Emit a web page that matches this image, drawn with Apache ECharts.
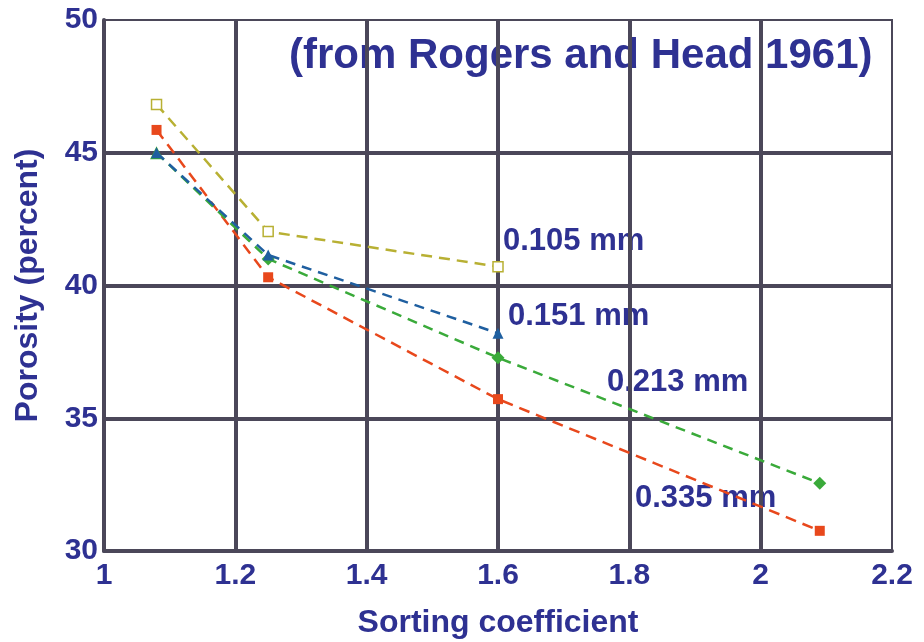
<!DOCTYPE html>
<html>
<head>
<meta charset="utf-8">
<script src="https://cdn.jsdelivr.net/npm/echarts@6/dist/echarts.min.js"></script>
<style>html,body{margin:0;padding:0;background:#fff}#c{width:924px;height:642px}</style>
</head>
<body>
<div id="c"></div>
<script>
// Data
const sorting105 = [1.08, 1.25, 1.60];
const porosity105 = [46.82, 42.03, 40.71];
const sorting151 = [1.08, 1.25, 1.60];
const porosity151 = [45.0, 41.15, 38.2];
const sorting213 = [1.08, 1.25, 1.60, 2.09];
const porosity213 = [45.0, 41.0, 37.28, 32.55];
const sorting335 = [1.08, 1.25, 1.60, 2.09];
const porosity335 = [45.86, 40.31, 35.72, 30.76];
const seriesNames = ['0.105 mm', '0.151 mm', '0.213 mm', '0.335 mm'];
const xTicks = [1, 1.2, 1.4, 1.6, 1.8, 2, 2.2];
const yTicks = [30, 35, 40, 45, 50];
const titleText = '(from Rogers and Head 1961)';
const xTitle = 'Sorting coefficient';
const yTitle = 'Porosity (percent)';

const pair = (xs, ys) => xs.map((x, i) => [x, ys[i]]);
const TXT = '#2e3192';
const GRID = '#4b4759';
const FONT = '"Liberation Sans", Arial, sans-serif';

const chart = echarts.init(document.getElementById('c'), null, {renderer: 'canvas'});
chart.setOption({
  animation: false,
  backgroundColor: '#fff',
  grid: {left: 104, right: 32, top: 20, bottom: 91, containLabel: false, outerBoundsMode: 'none',
    show: true, borderColor: GRID, borderWidth: 2, backgroundColor: 'transparent'},
  xAxis: {
    type: 'value', min: 1, max: 2.2, interval: 0.2,
    name: xTitle, nameLocation: 'middle', nameGap: 56,
    nameTextStyle: {color: TXT, fontSize: 32, fontWeight: 'bold', fontFamily: FONT},
    axisLine: {show: true, onZero: false, lineStyle: {color: GRID, width: 4}},
    axisTick: {show: false},
    axisLabel: {color: TXT, fontSize: 30, fontWeight: 'bold', fontFamily: FONT, margin: 10,
      formatter: v => { const t = xTicks.find(k => Math.abs(k - v) < 1e-6); return t === undefined ? '' : String(t); }},
    splitLine: {show: true, showMinLine: false, showMaxLine: false, lineStyle: {color: GRID, width: 4}}
  },
  yAxis: {
    type: 'value', min: 30, max: 50, interval: 5,
    name: yTitle, nameLocation: 'middle', nameGap: 60, nameRotate: 90,
    nameTextStyle: {color: TXT, fontSize: 32, fontWeight: 'bold', fontFamily: FONT},
    axisLine: {show: true, onZero: false, lineStyle: {color: GRID, width: 4}},
    axisTick: {show: false},
    axisLabel: {color: TXT, fontSize: 30, fontWeight: 'bold', fontFamily: FONT, margin: 6,
      formatter: v => { const t = yTicks.find(k => Math.abs(k - v) < 1e-6); return t === undefined ? '' : String(t); }},
    splitLine: {show: true, showMinLine: false, showMaxLine: false, lineStyle: {color: GRID, width: 4}}
  },
  series: [
    {name: seriesNames[0], type: 'line', data: pair(sorting105, porosity105),
      symbol: 'rect', symbolSize: 10, itemStyle: {color: '#fff', borderColor: '#b8b033', borderWidth: 1.5},
      lineStyle: {color: '#b8b033', width: 2.5, type: [11, 7]}, z: 3},
    {name: seriesNames[1], type: 'line', data: pair(sorting151, porosity151),
      symbol: 'triangle', symbolSize: 11, itemStyle: {color: '#1f5fa0'},
      lineStyle: {color: '#1f5fa0', width: 2.5, type: [10, 7]}, z: 4},
    {name: seriesNames[2], type: 'line',
      data: pair(sorting213, porosity213).map((d, i) => i === 0 ? {value: d, symbol: 'triangle'} : d),
      symbol: 'diamond', symbolSize: 13, itemStyle: {color: '#3aaa3a'},
      lineStyle: {color: '#3aaa3a', width: 2.5, type: [10, 7]}, z: 3},
    {name: seriesNames[3], type: 'line', data: pair(sorting335, porosity335),
      symbol: 'rect', symbolSize: 10, itemStyle: {color: '#e8481c'},
      lineStyle: {color: '#e8481c', width: 2.5, type: [11, 7]}, z: 2}
  ],
  graphic: [
    {type: 'text', left: 289, top: 35, style: {text: titleText, fill: TXT, font: 'bold 42px ' + FONT}},
    {type: 'text', x: 503, y: 241, style: {text: seriesNames[0], fill: TXT, font: 'bold 31px ' + FONT, verticalAlign: 'middle'}},
    {type: 'text', x: 508, y: 316, style: {text: seriesNames[1], fill: TXT, font: 'bold 31px ' + FONT, verticalAlign: 'middle'}},
    {type: 'text', x: 607, y: 382, style: {text: seriesNames[2], fill: TXT, font: 'bold 31px ' + FONT, verticalAlign: 'middle'}},
    {type: 'text', x: 635, y: 498, style: {text: seriesNames[3], fill: TXT, font: 'bold 31px ' + FONT, verticalAlign: 'middle'}}
  ]
});
</script>
</body>
</html>
